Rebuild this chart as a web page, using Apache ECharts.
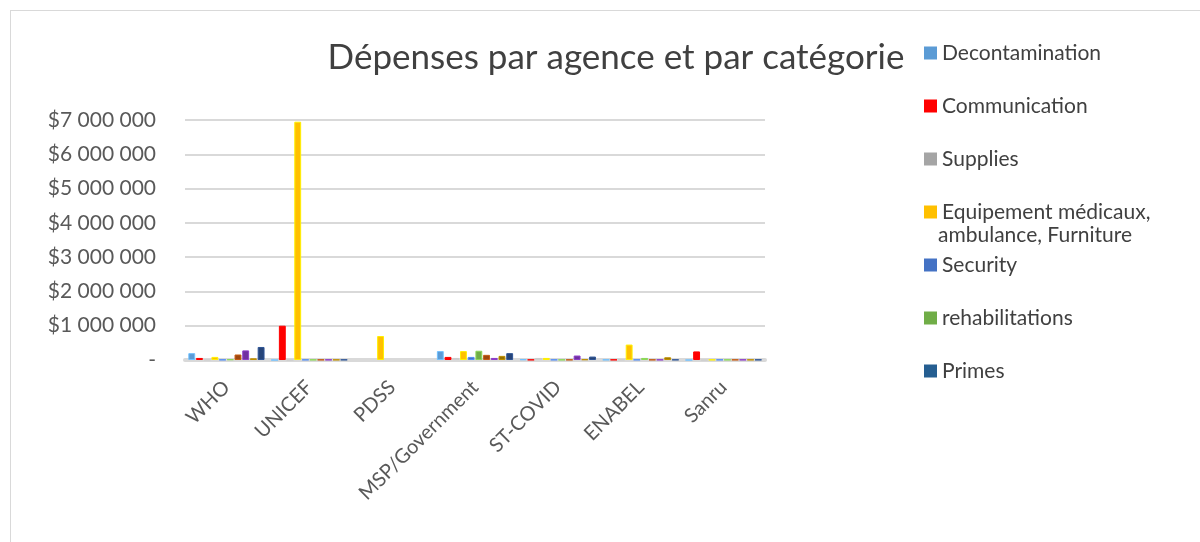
<!DOCTYPE html>
<html>
<head>
<meta charset="utf-8">
<script src="https://cdn.jsdelivr.net/npm/echarts@6/dist/echarts.min.js"></script>
<style>
  html, body { margin: 0; padding: 0; background: #fff; }
  #frame { position: absolute; left: 10px; top: 10px; width: 1200px; height: 540px; border: 1px solid #d9d9d9; box-sizing: border-box; }
  #chart { width: 1200px; height: 542px; }
</style>
</head>
<body>
<div id="frame"></div>
<div id="chart"></div>
<script>
// agences
const agencies = ['WHO', 'UNICEF', 'PDSS', 'MSP/Government', 'ST-COVID', 'ENABEL', 'Sanru'];

// catégories (les 3 dernières ne figurent pas dans la légende)
const categories = [
  'Decontamination', 'Communication', 'Supplies',
  'Equipement médicaux, ambulance, Furniture',
  'Security', 'rehabilitations', 'Primes',
  'Autres A', 'Autres B', 'Autres C'
];
const legendShown = categories.slice(0, 7);

// valeurs (USD)
const decontamination = [200000, 0, null, 260000, 20000, 10000, 0];
const communication   = [60000, 1000000, null, 90000, 10000, 10000, 250000];
const supplies        = [10000, 0, null, 60000, 60000, 10000, 0];
const equipement      = [90000, 6950000, 700000, 260000, 60000, 450000, 10000];
const security        = [10000, 10000, null, 90000, 10000, 10000, 10000];
const rehabilitations = [20000, 10000, null, 270000, 10000, 60000, 10000];
const autresA         = [160000, 10000, null, 150000, 10000, 10000, 10000];
const autresB         = [280000, 10000, null, 60000, 130000, 10000, 10000];
const autresC         = [50000, 10000, null, 120000, 20000, 80000, 10000];
const primes          = [380000, 10000, null, 200000, 100000, 10000, 10000];

// ordre d'affichage dans chaque groupe
const seriesOrder = [
  ['Decontamination', decontamination, '#5B9BD5'],
  ['Communication', communication, '#FF0000'],
  ['Supplies', supplies, '#A5A5A5'],
  [categories[3], equipement, '#FFC000'],
  ['Security', security, '#4472C4'],
  ['rehabilitations', rehabilitations, '#70AD47'],
  ['Autres A', autresA, '#9E480E'],
  ['Autres B', autresB, '#7030A0'],
  ['Autres C', autresC, '#997300'],
  ['Primes', primes, '#264478']
];

const legendColors = { 'Primes': '#255E91' };

const chart = echarts.init(document.getElementById('chart'));

const series = seriesOrder.map(([name, data, color]) => ({
  name: name,
  type: 'bar',
  data: data,
  barGap: '12%',
  barCategoryGap: '8%',
  itemStyle: {
    color: color,
    borderColor: echarts.color.lift(color, -0.25),
    borderWidth: 1
  }
}));

chart.setOption({
  animation: false,
  textStyle: { fontFamily: 'Lato, "Open Sans", sans-serif' },
  title: {
    text: 'Dépenses par agence et par catégorie',
    left: 611,
    top: 35,
    textAlign: 'center',
    textStyle: { fontSize: 35, fontWeight: 'normal', color: '#404040', fontFamily: 'Lato, sans-serif' }
  },
  legend: {
    data: legendShown.map(n => ({
      name: n,
      itemStyle: { color: legendColors[n] || undefined, borderWidth: 0 }
    })),
    orient: 'vertical',
    left: 919,
    top: 36,
    itemWidth: 13,
    itemHeight: 13,
    itemGap: 29,
    icon: 'rect',
    formatter: n => n.indexOf('Equipement') === 0 ? 'Equipement médicaux,' : n,
    textStyle: { fontSize: 21, color: '#404040', lineHeight: 24 }
  },
  graphic: [{
    type: 'text',
    left: 938,
    top: 225,
    style: { text: 'ambulance, Furniture', fontSize: 21, fill: '#404040', fontFamily: 'Lato, sans-serif' }
  }],
  grid: { left: 185, right: 435, top: 120, bottom: 182 },
  xAxis: {
    type: 'category',
    data: agencies,
    axisLine: { lineStyle: { color: '#d9d9d9', width: 4 } },
    axisTick: { show: false },
    axisLabel: { rotate: 45, fontSize: 20, color: '#595959', margin: 24, interval: 0 }
  },
  yAxis: {
    type: 'value',
    min: 0,
    max: 7000000,
    interval: 1000000,
    axisLine: { show: false },
    axisTick: { show: false },
    splitLine: { lineStyle: { color: '#d9d9d9', width: 2 } },
    axisLabel: {
      fontSize: 21,
      color: '#595959',
      margin: 29,
      formatter: v => v === 0 ? '-' : '$' + String(v).replace(/\B(?=(\d{3})+(?!\d))/g, ' ')
    }
  },
  series: series
});
</script>
</body>
</html>
